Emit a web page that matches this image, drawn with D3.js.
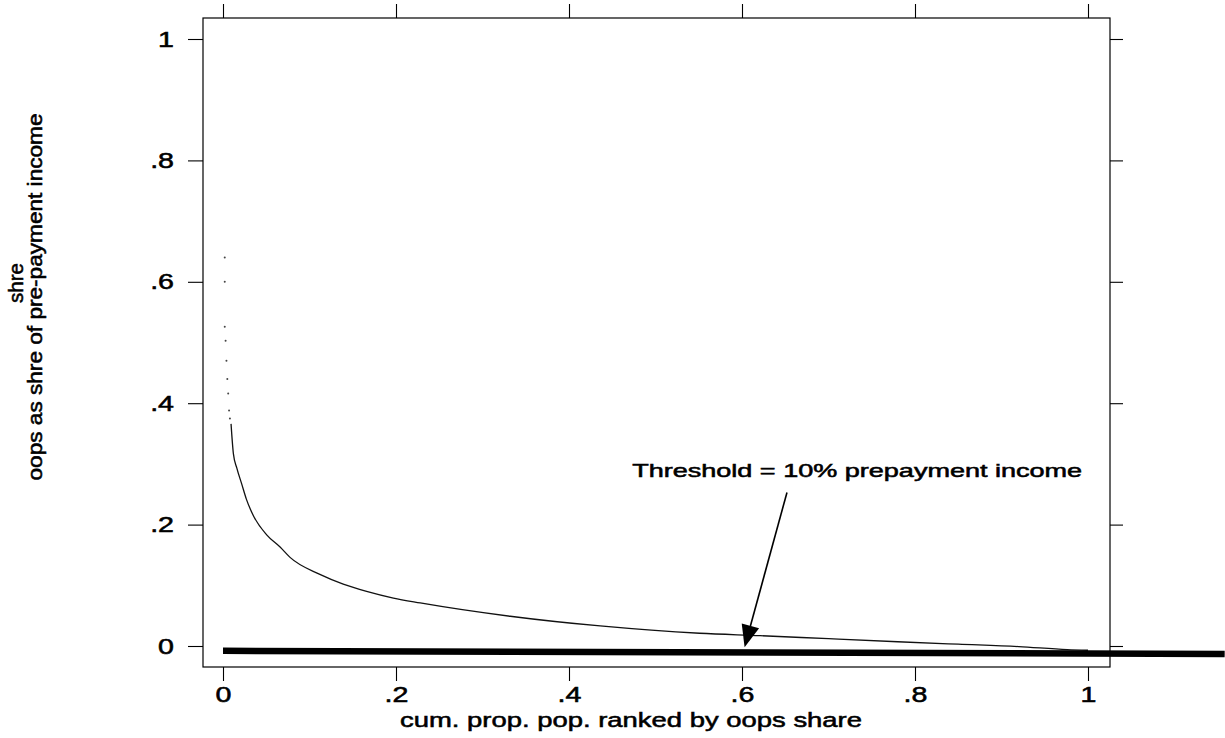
<!DOCTYPE html>
<html lang="en">
<head>
<meta charset="utf-8">
<title>oops share curve</title>
<script src="https://cdn.jsdelivr.net/npm/d3@7"></script>
<style>
  body { margin: 0; background: #fff; }
  text { font-family: "Liberation Sans", Arial, Helvetica, sans-serif; fill: #000; stroke: #000; stroke-width: 0.55px; }
</style>
</head>
<body>
<script>
// curve: cumulative prop. of population vs oops share (solid part)
var curveX = [0.0093, 0.012, 0.016, 0.0216, 0.027, 0.035, 0.0505, 0.066, 0.0775, 0.112, 0.139, 0.166, 0.197, 0.228,
              0.332, 0.436, 0.551, 0.621, 0.70, 0.78, 0.85, 0.92, 0.976, 1.0];
var curveY = [0.366, 0.317, 0.293, 0.267, 0.242, 0.215, 0.183, 0.163, 0.146, 0.118, 0.102, 0.090, 0.079, 0.071,
              0.049, 0.033, 0.021, 0.017, 0.012, 0.007, 0.003, -0.001, -0.006, -0.007];
// sparse top of the curve (printed as faint dots)
var topX = [0.002, 0.002, 0.002, 0.003, 0.004, 0.005, 0.006, 0.007, 0.008];
var topY = [0.640, 0.600, 0.526, 0.503, 0.470, 0.440, 0.416, 0.388, 0.375];
// thick threshold line
var threshX = [0, 1.158];
var threshY = [-0.008, -0.013];
// annotation
var noteText = "Threshold = 10% prepayment income";
var noteX = 0.473, noteY = 0.278;
var arrowFrom = [0.652, 0.253], arrowTo = [0.603, -0.002];

var xTicks = [0, 0.2, 0.4, 0.6, 0.8, 1];
var xTickLabels = ["0", ".2", ".4", ".6", ".8", "1"];
var yTicks = [0, 0.2, 0.4, 0.6, 0.8, 1];
var yTickLabels = ["0", ".2", ".4", ".6", ".8", "1"];

var W = 1225, H = 738;
var frame = { left: 203, top: 18, right: 1110, bottom: 667 };

var x = d3.scaleLinear().domain([0, 1]).range([223, 1088]);
var y = d3.scaleLinear().domain([0, 1]).range([646, 39]);

var svg = d3.select("body").append("svg")
    .attr("width", W).attr("height", H)
    .style("display", "block");

svg.append("rect").attr("width", W).attr("height", H).attr("fill", "#fff");

// stretch labels horizontally like the printed font
function stretch(sel, k) {
  sel.each(function () {
    var len = this.getComputedTextLength();
    d3.select(this).attr("textLength", len * k).attr("lengthAdjust", "spacingAndGlyphs");
  });
}

// axes
var gLeft = svg.append("g").attr("transform", "translate(" + frame.left + ",0)")
  .call(d3.axisLeft(y).tickValues(yTicks).tickSize(15).tickPadding(14)
    .tickFormat(function (d, i) { return yTickLabels[i]; }));
var gBottom = svg.append("g").attr("transform", "translate(0," + frame.bottom + ")")
  .call(d3.axisBottom(x).tickValues(xTicks).tickSize(14).tickPadding(5)
    .tickFormat(function (d, i) { return xTickLabels[i]; }));
var gRight = svg.append("g").attr("transform", "translate(" + frame.right + ",0)")
  .call(d3.axisRight(y).tickValues(yTicks).tickSize(13).tickFormat(""));
var gTop = svg.append("g").attr("transform", "translate(0," + frame.top + ")")
  .call(d3.axisTop(x).tickValues(xTicks).tickSize(14).tickFormat(""));

[gLeft, gBottom, gRight, gTop].forEach(function (g) {
  g.select(".domain").remove();
  g.selectAll("line").attr("stroke", "#000").attr("stroke-width", 1.1);
  g.selectAll("text").attr("font-size", 22).attr("fill", "#000")
    .style("font-family", "'Liberation Sans', Arial, sans-serif");
});
stretch(gLeft.selectAll("text"), 1.3);
stretch(gBottom.selectAll("text"), 1.3);

// frame
svg.append("rect")
  .attr("x", frame.left).attr("y", frame.top)
  .attr("width", frame.right - frame.left).attr("height", frame.bottom - frame.top)
  .attr("fill", "none").attr("stroke", "#000").attr("stroke-width", 1.2);

// curve
var line = d3.line().x(function (d) { return x(d[0]); }).y(function (d) { return y(d[1]); });
svg.append("path")
  .datum(d3.zip(curveX, curveY))
  .attr("d", line.curve(d3.curveMonotoneX))
  .attr("fill", "none").attr("stroke", "#111").attr("stroke-width", 1.3);

svg.selectAll(".topdot")
  .data(d3.zip(topX, topY))
  .enter().append("circle")
  .attr("class", "topdot")
  .attr("cx", function (d) { return x(d[0]); })
  .attr("cy", function (d) { return y(d[1]); })
  .attr("r", 1)
  .attr("fill", "#444");

// threshold line
svg.append("path")
  .datum(d3.zip(threshX, threshY))
  .attr("d", d3.line().x(function (d) { return x(d[0]); }).y(function (d) { return y(d[1]); }))
  .attr("fill", "none").attr("stroke", "#000").attr("stroke-width", 6.5);

// annotation arrow
var x0 = x(arrowFrom[0]), y0 = y(arrowFrom[1]), x1 = x(arrowTo[0]), y1 = y(arrowTo[1]);
var dx = x1 - x0, dy = y1 - y0, L = Math.sqrt(dx * dx + dy * dy);
var ux = dx / L, uy = dy / L, headLen = 22, headW = 9;
var bx = x1 - ux * headLen, by = y1 - uy * headLen;
svg.append("line")
  .attr("x1", x0).attr("y1", y0).attr("x2", bx).attr("y2", by)
  .attr("stroke", "#000").attr("stroke-width", 1.6);
svg.append("polygon")
  .attr("points", [[x1, y1], [bx - uy * headW, by + ux * headW], [bx + uy * headW, by - ux * headW]]
    .map(function (p) { return p.join(","); }).join(" "))
  .attr("fill", "#000");

svg.append("text")
  .attr("x", x(noteX)).attr("y", y(noteY))
  .attr("font-size", 19)
  .attr("textLength", 450).attr("lengthAdjust", "spacingAndGlyphs")
  .text(noteText);

// axis titles
svg.append("text")
  .attr("x", 400).attr("y", 727)
  .attr("font-size", 21)
  .attr("textLength", 462).attr("lengthAdjust", "spacingAndGlyphs")
  .text("cum. prop. pop. ranked by oops share");

svg.append("text")
  .attr("transform", "translate(23,283) rotate(-90)")
  .attr("text-anchor", "middle")
  .attr("font-size", 20)
  .attr("textLength", 40).attr("lengthAdjust", "spacingAndGlyphs")
  .text("shre");

svg.append("text")
  .attr("transform", "translate(42,297) rotate(-90)")
  .attr("text-anchor", "middle")
  .attr("font-size", 20)
  .attr("textLength", 367).attr("lengthAdjust", "spacingAndGlyphs")
  .text("oops as shre of pre-payment income");
</script>
</body>
</html>
